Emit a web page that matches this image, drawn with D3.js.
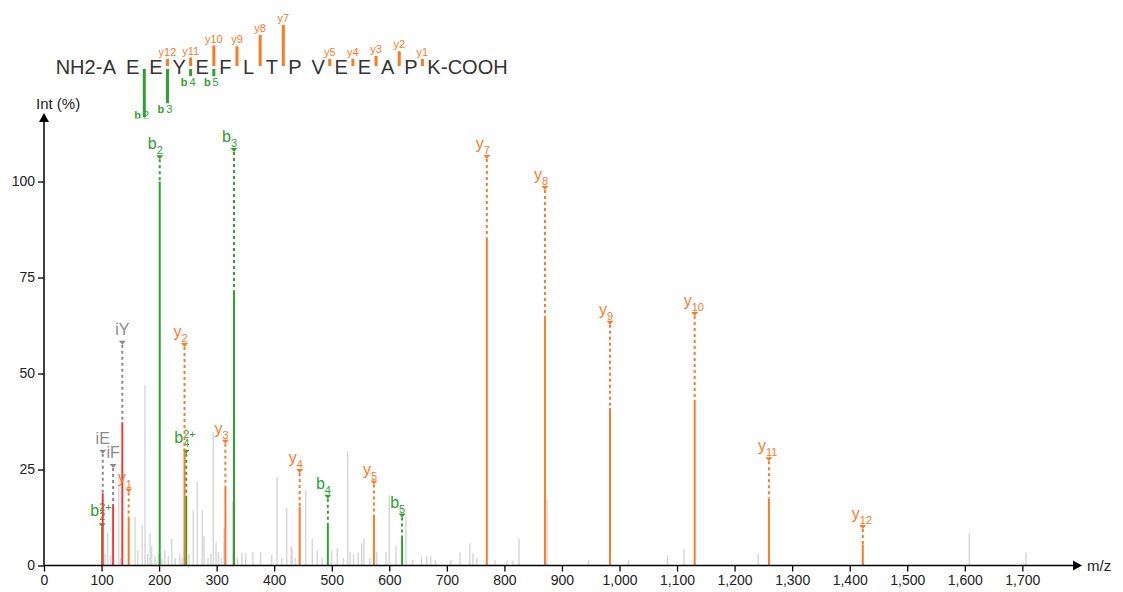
<!DOCTYPE html>
<html><head><meta charset="utf-8">
<script src="https://cdn.jsdelivr.net/npm/d3@7/dist/d3.min.js"></script>
<style>
html,body{margin:0;padding:0;background:#fff;}
svg{display:block;font-family:"Liberation Sans",Arial,sans-serif;}
</style></head>
<body>
<svg id="c" width="1123" height="592"></svg>
<script>
// ---------------- data ----------------
const sequence = ["A","E","E","Y","E","F","L","T","P","V","E","E","A","P","K"];

// annotated peaks
const annIon   = ["b2++","iE","iF","iY","b2","b3","b4++","b4","b5","y1","y2","y3","y4","y5","y7","y8","y9","y10","y11","y12"];
const annMz    = [101.05,102.06,120.08,136.08,201.09,330.13,247.10,493.19,622.24,147.11,244.17,315.20,444.25,573.29,769.41,870.46,983.54,1130.61,1259.65,1422.72];
const annInt   = [10,18.8,16,37.3,100,71.6,18.1,10.9,7.4,12.6,30.5,20.8,15.3,12.9,85.5,64.4,41,42.6,17.5,5.5];
const annLevel = [10.5,29.6,25.9,58.0,106.3,108.2,29.6,17.9,13.0,19.5,57.4,32.2,24.6,21.6,106.4,98.3,63.2,65.5,27.7,10.0];

// unannotated (grey) peaks
const greyMz  = [106,110.7,115.9,129.8,133,158.1,163,170.8,175.5,180,184.2,187.1,193,199,205,210,216,221.9,228,236,240,246,252,259.4,266.4,275.1,278,285,290,294.2,299,303,308,312.8,327.9,336,344,350.5,363,376.5,395.7,404.9,413,421.7,429.2,431.4,437,454.7,466.2,474.9,483,499.9,509.6,520,527.7,532,538,546,552,556,566,578,594.3,600,611.6,629,640,656,665,672,680.6,707,722.8,740,745.4,752,783.7,804.5,815,825.4,874,945.8,1015.3,1083.7,1112,1241.2,1607.8,1706.3];
const greyInt = [3,8.6,2.7,21,2,12.6,4,10.5,47,3,8.4,5,2.5,3,2,4,2.5,7,2,3,2,1.5,3,14.3,21.8,14.4,7.6,2,3,34.8,6,3.5,2,9.6,16.6,2,3.2,3.2,3.6,3.6,2.7,23,2,15,5.2,4.4,2,19.7,7,4,2,4,4.4,2,29.8,3.5,3,3.3,5.8,7,2,3.5,3.5,18.3,5.2,12.7,1.4,2.4,2.4,2.3,1.5,1.5,3.4,5.8,3.2,2,1.5,1.3,1.3,7,17.2,1.5,1.5,2.7,4.2,3.2,8.4,3.4];

const xTicks = [0,100,200,300,400,500,600,700,800,900,1000,1100,1200,1300,1400,1500,1600,1700];
const yTicks = [0,25,50,75,100];

// ---------------- styles ----------------
const COL = {b:"#2ca22c", y:"#fb7a26", i:"#8a8a8a", imm:"#ef3b3b", grey:"#d8d8d8", txt:"#333"};

const svg = d3.select("#c");
const x = d3.scaleLinear().domain([0,1800]).range([44, 44 + 1800*0.5755]);
const y = d3.scaleLinear().domain([0,100]).range([565.5, 181.5]);

function parseIon(s){
  if (s[0] === "i") return {type:"i", name:s};
  const m = s.match(/^([by])(\d+)(\+\+)?$/);
  return {type:m[1], num:m[2], charged:!!m[3]};
}

// ---------------- grey peaks ----------------
svg.append("g").selectAll("line").data(greyMz.map((m,i)=>({m, v:greyInt[i]})))
  .join("line")
  .attr("x1",d=>x(d.m)).attr("x2",d=>x(d.m))
  .attr("y1",y(0)).attr("y2",d=>y(d.v))
  .attr("stroke",COL.grey).attr("stroke-width",1.5);

// ---------------- annotated peaks ----------------
const ann = annIon.map((s,i)=>({ion:parseIon(s), m:annMz[i], v:annInt[i], lv:annLevel[i]}));
const gA = svg.append("g");
ann.forEach(d=>{
  const px = x(d.m);
  const lineCol = d.ion.type==="i" ? COL.imm : COL[d.ion.type];
  const labCol  = d.ion.type==="i" ? COL.i : COL[d.ion.type];
  gA.append("line").attr("x1",px).attr("x2",px).attr("y1",y(0)).attr("y2",y(d.v))
    .attr("stroke",lineCol).attr("stroke-width",2);
  const my = y(d.lv);
  gA.append("line").attr("x1",px).attr("x2",px).attr("y1",my+2).attr("y2",y(d.v))
    .attr("stroke",labCol).attr("stroke-width",2).attr("stroke-dasharray","3,3");
  gA.append("path").attr("d",`M${px-3.5},${my-2}L${px+3.5},${my-2}L${px},${my+2}Z`).attr("fill",labCol);
  if (d.ion.type==="i"){
    gA.append("text").attr("x",px).attr("y",my-8).attr("text-anchor","middle")
      .attr("font-size",16).attr("fill",labCol).text(d.ion.name);
  } else {
    const sx = px-3;
    const t = gA.append("text").attr("fill",labCol);
    t.append("tspan").attr("x",sx).attr("y",my-(d.ion.charged?9:8)).attr("text-anchor","end")
      .attr("font-size",16).text(d.ion.type);
    if (d.ion.charged)
      t.append("tspan").attr("x",sx).attr("y",my-14).attr("text-anchor","start")
        .attr("font-size",11).text("2+");
    t.append("tspan").attr("x",sx).attr("y",my-(d.ion.charged?5:3)).attr("text-anchor","start")
      .attr("font-size",11).text(d.ion.num);
  }
});

// ---------------- axes ----------------
const gx = svg.append("g").attr("transform",`translate(0,${y(0)})`)
  .call(d3.axisBottom(x).tickValues(xTicks).tickFormat(d3.format(",")).tickSize(6).tickPadding(4));
const gy = svg.append("g").attr("transform",`translate(${x(0)},0)`)
  .call(d3.axisLeft(y).tickValues(yTicks).tickSize(6).tickPadding(3));
[gx,gy].forEach(g=>{
  g.select(".domain").remove();
  g.selectAll(".tick line").attr("stroke","#000").attr("stroke-width",1.3);
  g.selectAll(".tick text").attr("font-size",14).attr("fill","#222").attr("font-family","Liberation Sans, Arial, sans-serif");
});
svg.append("line").attr("x1",x(0)).attr("x2",1076).attr("y1",y(0)).attr("y2",y(0)).attr("stroke","#000").attr("stroke-width",1.5);
svg.append("line").attr("x1",x(0)).attr("x2",x(0)).attr("y1",y(0)).attr("y2",120).attr("stroke","#000").attr("stroke-width",1.5);
svg.append("path").attr("d",`M1082,${y(0)}L1073,${y(0)-5}L1073,${y(0)+5}Z`).attr("fill","#000");
svg.append("path").attr("d",`M${x(0)},113L${x(0)-5},122L${x(0)+5},122Z`).attr("fill","#000");
svg.append("text").attr("x",1087).attr("y",571).attr("font-size",15).attr("fill","#222").text("m/z");
svg.append("text").attr("x",36).attr("y",109).attr("font-size",15).attr("fill","#222").text("Int (%)");

// ---------------- sequence header ----------------
const n = sequence.length;
const sx = d3.scaleLinear().domain([1,n-1]).range([132.7,434]);   // residue index (0-based) -> centre
svg.append("clipPath").attr("id","hc").append("rect").attr("x",0).attr("y",0).attr("width",1123).attr("height",118.5);
const hdr = svg.append("g").attr("clip-path","url(#hc)");
const baseY = 74;
const seqText = hdr.append("text").attr("y",baseY).attr("font-size",20).attr("fill",COL.txt);
seqText.append("tspan").attr("x",sx(0)-7.2).attr("text-anchor","end").text("NH2-");
sequence.forEach((r,i)=>{
  seqText.append("tspan").attr("x",sx(i)).attr("text-anchor","middle").text(r);
});
seqText.append("tspan").attr("x",sx(n-1)+7).attr("text-anchor","start").text("-COOH");

const barLen = v => Math.max(7, v*0.48);
ann.filter(d=>d.ion.type!=="i" && !d.ion.charged).forEach(d=>{
  const k = +d.ion.num;
  if (d.ion.type==="b"){
    const bx = (sx(k-1)+sx(k))/2;
    const bot = 69 + barLen(d.v);
    hdr.append("line").attr("x1",bx).attr("x2",bx).attr("y1",69).attr("y2",bot)
      .attr("stroke",COL.b).attr("stroke-width",3);
    const t = hdr.append("text").attr("x",bx-2.5).attr("y",Math.min(bot+9.5,118.5)).attr("text-anchor","middle")
      .attr("font-size",11).attr("font-weight","bold").attr("fill",COL.b);
    t.append("tspan").text("b");
    t.append("tspan").attr("dx",2).attr("font-weight","normal").text(d.ion.num);
  } else {
    const bx = (sx(n-k-1)+sx(n-k))/2;
    const top = 66 - barLen(d.v);
    hdr.append("line").attr("x1",bx).attr("x2",bx).attr("y1",66).attr("y2",top)
      .attr("stroke",COL.y).attr("stroke-width",3);
    hdr.append("text").attr("x",bx).attr("y",top-3).attr("text-anchor","middle")
      .attr("font-size",11).attr("fill",COL.y).text("y"+d.ion.num);
  }
});
</script>
</body></html>
